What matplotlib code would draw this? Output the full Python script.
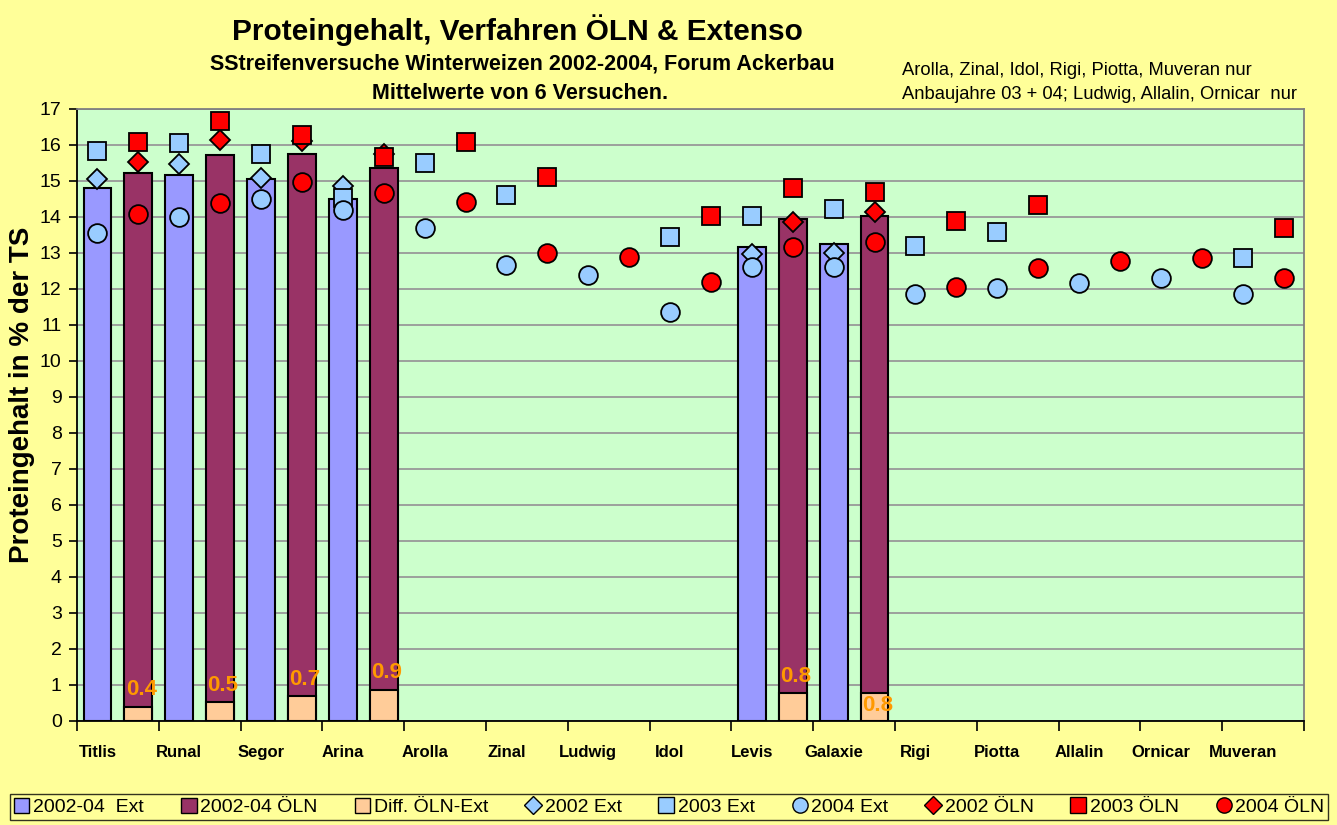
import numpy as np
import matplotlib
matplotlib.use('Agg')
import matplotlib.pyplot as plt
from matplotlib.patches import Patch
from matplotlib.lines import Line2D

plt.rcParams['font.family'] = ['Liberation Sans', 'DejaVu Sans']

nan = np.nan
sorten = ['Titlis', 'Runal', 'Segor', 'Arina', 'Arolla', 'Zinal', 'Ludwig', 'Idol',
          'Levis', 'Galaxie', 'Rigi', 'Piotta', 'Allalin', 'Ornicar', 'Muveran']

# Mittelwerte 2002-04 (Balken)
mittel_ext = [14.80, 15.17, 15.06, 14.49, nan, nan, nan, nan, 13.17, 13.25, nan, nan, nan, nan, nan]
mittel_oln = [15.21, 15.72, 15.75, 15.37, nan, nan, nan, nan, 13.94, 14.04, nan, nan, nan, nan, nan]
diff_oln_ext = [0.40, 0.52, 0.68, 0.87, nan, nan, nan, nan, 0.77, 0.78, nan, nan, nan, nan, nan]

# Einzeljahre
ext_2002 = [15.06, 15.47, 15.09, 14.86, nan, nan, nan, nan, 12.97, 12.99, nan, nan, nan, nan, nan]
ext_2003 = [15.83, 16.06, 15.75, 14.52, 15.49, 14.60, nan, 13.43, 14.03, 14.22, 13.20, 13.58, nan, nan, 12.85]
ext_2004 = [13.56, 14.01, 14.49, 14.19, 13.69, 12.67, 12.39, 11.35, 12.60, 12.60, 11.86, 12.04, 12.16, 12.30, 11.85]
oln_2002 = [15.52, 16.14, 16.10, 15.75, nan, nan, nan, nan, 13.86, 14.14, nan, nan, nan, nan, nan]
oln_2003 = [16.09, 16.68, 16.28, 15.68, 16.08, 15.12, nan, 14.04, 14.80, 14.70, 13.90, 14.33, nan, nan, 13.69]
oln_2004 = [14.07, 14.38, 14.98, 14.66, 14.43, 12.99, 12.90, 12.20, 13.16, 13.30, 12.05, 12.57, 12.79, 12.85, 12.30]

c_ext = '#9999FF'
c_oln = '#993366'
c_diff = '#FFCC99'
c_hb = '#99CCFF'
c_rot = '#FF0000'
gelb = '#FFFF99'

n = len(sorten)
x_ext = np.arange(n) * 2
x_oln = np.arange(n) * 2 + 1

fig = plt.figure(figsize=(13.37, 8.25), dpi=100, facecolor=gelb)
ax = fig.add_axes([0.0576, 0.1261, 0.9177, 0.7418])
ax.set_facecolor('#CCFFCC')

bw = 0.68
ax.bar(x_ext, mittel_ext, bw, color=c_ext, edgecolor='black', linewidth=1.5, zorder=2)
ax.bar(x_oln, mittel_oln, bw, color=c_oln, edgecolor='black', linewidth=1.5, zorder=2)
ax.bar(x_oln, diff_oln_ext, bw, color=c_diff, edgecolor='black', linewidth=1.5, zorder=3)

# Beschriftung der Differenz
for i in range(n):
    d = diff_oln_ext[i]
    if np.isnan(d):
        continue
    off = -9 if sorten[i] == 'Galaxie' else 12
    ax.annotate('%.1f' % d, (x_oln[i], d), xytext=(2, off), textcoords='offset points',
                ha='center', va='center', color='#FF9900', fontsize=16, fontweight='bold', zorder=6)

ms = 13.5
ax.plot(x_ext, ext_2002, 'D', ms=10.5, mfc=c_hb, mec='black', mew=1.3, ls='none', zorder=4)
ax.plot(x_ext, ext_2003, 's', ms=ms, mfc=c_hb, mec='black', mew=1.3, ls='none', zorder=4)
ax.plot(x_ext, ext_2004, 'o', ms=ms, mfc=c_hb, mec='black', mew=1.3, ls='none', zorder=4)
ax.plot(x_oln, oln_2002, 'D', ms=10.5, mfc=c_rot, mec='black', mew=1.3, ls='none', zorder=4)
ax.plot(x_oln, oln_2003, 's', ms=ms, mfc=c_rot, mec='black', mew=1.3, ls='none', zorder=4)
ax.plot(x_oln, oln_2004, 'o', ms=ms, mfc=c_rot, mec='black', mew=1.3, ls='none', zorder=4)

ax.set_xlim(-0.5, 2 * n - 0.5)
ax.set_ylim(0, 17)
ax.set_yticks(range(0, 18))
ax.yaxis.grid(True, color='#999999', linewidth=1.3, zorder=0)
ax.set_axisbelow(True)
ax.tick_params(axis='y', labelsize=14, length=6, width=1.2, direction='out', pad=5)

ax.set_xticks(np.arange(-0.5, 2 * n, 2))
ax.set_xticklabels([])
ax.tick_params(axis='x', which='major', length=7, width=1.2, direction='out')
ax.set_xticks(x_ext, minor=True)
ax.set_xticklabels(sorten, minor=True, fontsize=12, fontweight='bold')
ax.tick_params(axis='x', which='minor', length=0, pad=17)

for s in ['top', 'right']:
    ax.spines[s].set_color('#808080')
    ax.spines[s].set_linewidth(1.3)
for s in ['left', 'bottom']:
    ax.spines[s].set_color('black')
    ax.spines[s].set_linewidth(1.3)

ax.set_ylabel('Proteingehalt in % der TS', fontsize=20, fontweight='bold')
ax.yaxis.set_label_coords(-0.034, 0.533)

fig.text(0.387, 0.963, 'Proteingehalt, Verfahren ÖLN & Extenso', ha='center', va='center',
         fontsize=21.5, fontweight='bold')
fig.text(0.391, 0.922, 'SStreifenversuche Winterweizen 2002-2004, Forum Ackerbau', ha='center',
         va='center', fontsize=15.5, fontweight='bold')
fig.text(0.389, 0.887, 'Mittelwerte von 6 Versuchen.', ha='center', va='center',
         fontsize=15.5, fontweight='bold')
fig.text(0.675, 0.914, 'Arolla, Zinal, Idol, Rigi, Piotta, Muveran nur', ha='left', va='center',
         fontsize=13.2)
fig.text(0.675, 0.885, 'Anbaujahre 03 + 04; Ludwig, Allalin, Ornicar  nur', ha='left', va='center',
         fontsize=13.2)

handles = [
    Patch(facecolor=c_ext, edgecolor='black'),
    Patch(facecolor=c_oln, edgecolor='black'),
    Patch(facecolor=c_diff, edgecolor='black'),
    Line2D([], [], marker='D', ls='none', ms=9, mfc=c_hb, mec='black'),
    Line2D([], [], marker='s', ls='none', ms=11, mfc=c_hb, mec='black'),
    Line2D([], [], marker='o', ls='none', ms=11, mfc=c_hb, mec='black'),
    Line2D([], [], marker='D', ls='none', ms=9, mfc=c_rot, mec='black'),
    Line2D([], [], marker='s', ls='none', ms=11, mfc=c_rot, mec='black'),
    Line2D([], [], marker='o', ls='none', ms=11, mfc=c_rot, mec='black'),
]
labels = ['2002-04  Ext', '2002-04 ÖLN', 'Diff. ÖLN-Ext', '2002 Ext', '2003 Ext', '2004 Ext',
          '2002 ÖLN', '2003 ÖLN', '2004 ÖLN']
leg = fig.legend(handles, labels, loc='center', bbox_to_anchor=(0.0075, 0.022, 0.986, 0.0),
                 mode='expand', ncol=9, fontsize=14, frameon=True, fancybox=False,
                 edgecolor='black', facecolor=gelb, handlelength=0.8, handleheight=0.8,
                 handletextpad=0.2, columnspacing=0.5, borderpad=0.2, borderaxespad=0)
leg.get_frame().set_linewidth(1.0)

fig.savefig('out.png', dpi=100, facecolor=gelb)
